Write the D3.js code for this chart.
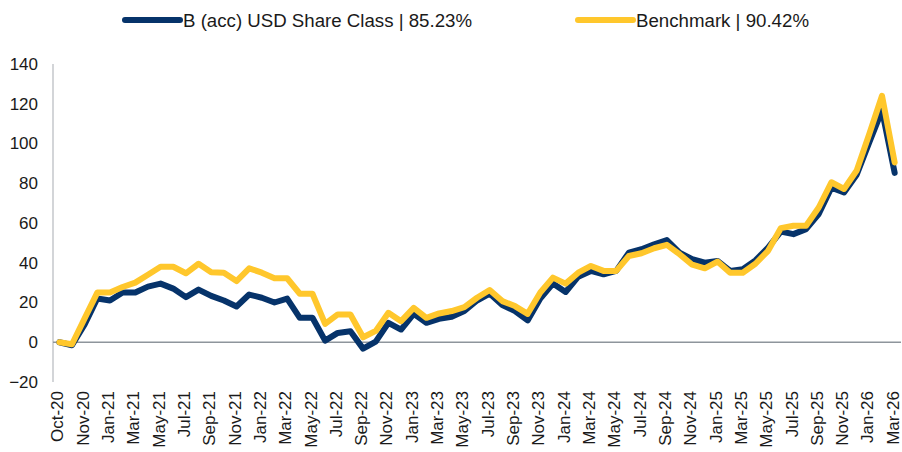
<!DOCTYPE html>
<html>
<head>
<meta charset="utf-8">
<script src="https://cdn.jsdelivr.net/npm/d3@7"></script>
<style>
  body { margin: 0; background: #fff; }
  svg text { font-family: "Liberation Sans", Arial, sans-serif; fill: #1a1a1a; }
</style>
</head>
<body>
<svg width="902" height="452"></svg>
<script>
// 横轴类别：首点为成立日，其后为月末
var labels = ["Oct-20", "Oct-20", "Nov-20", "Dec-20",
  "Jan-21", "Feb-21", "Mar-21", "Apr-21", "May-21", "Jun-21", "Jul-21", "Aug-21", "Sep-21", "Oct-21", "Nov-21", "Dec-21",
  "Jan-22", "Feb-22", "Mar-22", "Apr-22", "May-22", "Jun-22", "Jul-22", "Aug-22", "Sep-22", "Oct-22", "Nov-22", "Dec-22",
  "Jan-23", "Feb-23", "Mar-23", "Apr-23", "May-23", "Jun-23", "Jul-23", "Aug-23", "Sep-23", "Oct-23", "Nov-23", "Dec-23",
  "Jan-24", "Feb-24", "Mar-24", "Apr-24", "May-24", "Jun-24", "Jul-24", "Aug-24", "Sep-24", "Oct-24", "Nov-24", "Dec-24",
  "Jan-25", "Feb-25", "Mar-25", "Apr-25", "May-25", "Jun-25", "Jul-25", "Aug-25", "Sep-25", "Oct-25", "Nov-25", "Dec-25",
  "Jan-26", "Feb-26", "Mar-26"];

// 份额类别累计收益 (%)
var shareClass = [0, -1.5, 9, 22, 21, 25, 25, 28, 29.5, 27, 22.7, 26.5, 23.3, 21, 18, 24,
  22.4, 20, 22, 12.3, 12.3, 0.8, 4.7, 5.5, -3.2, 0.3, 9.8, 6.4, 14.3, 9.8, 11.8, 12.8,
  15.7, 21, 24.5, 18.7, 15.7, 11, 22, 29.5, 25.3, 33, 35.9, 34.2, 35.9, 45.1, 46.8, 49.3,
  51.4, 45.1, 41.8, 40, 40.9, 35.9, 36.7, 41.2, 47.6, 55.7, 54.4, 56.9, 64.5, 77.8, 75.4,
  84.3, 100.7, 116.7, 85.23];

// 基准累计收益 (%)
var benchmark = [0, -1, 12, 25, 25, 27.8, 30, 34, 38, 38, 34.7, 39.5, 35.2, 35, 30.8, 37.2,
  35, 32.2, 32.2, 24.4, 24.4, 9.2, 14, 14, 2.5, 5.7, 14.8, 10.6, 17.3, 12.3, 14.5, 15.7,
  17.7, 22.4, 26.3, 20.7, 18.2, 14.3, 25, 32.5, 29.5, 35, 38.4, 35.9, 35.9, 43.4, 44.8, 47.3,
  49, 44.3, 39, 37.2, 40.6, 35, 35, 39.5, 46, 57.4, 58.6, 58.6, 67.8, 80.5, 77.1,
  86.4, 104.9, 124, 90.42];

var yTicks = [-20, 0, 20, 40, 60, 80, 100, 120, 140];

var seriesNames = ["B (acc) USD Share Class | 85.23%", "Benchmark | 90.42%"];
var seriesColors = ["#06336a", "#ffc72c"];

var svg = d3.select("svg");
var margin = {left: 53, right: 1, top: 64, bottom: 70};
var width = +svg.attr("width"), height = +svg.attr("height");

// x：类别轴，点位于类别中间
var x = d3.scaleBand()
    .domain(d3.range(labels.length))
    .range([margin.left, width - margin.right]);

var y = d3.scaleLinear()
    .domain([-20, 140])
    .range([382, 64]);

// 纵轴线
svg.append("line")
    .attr("x1", margin.left).attr("x2", margin.left)
    .attr("y1", y(140)).attr("y2", y(-20))
    .attr("stroke", "#c4c7cb").attr("stroke-width", 1.5);

// 零线
svg.append("line")
    .attr("x1", margin.left).attr("x2", width - margin.right)
    .attr("y1", y(0)).attr("y2", y(0))
    .attr("stroke", "#8e959c").attr("stroke-width", 1.5);

// 纵轴标签
var yAxis = svg.append("g")
    .attr("transform", "translate(" + (margin.left - 15) + ",0)")
    .call(d3.axisLeft(y).tickValues(yTicks).tickSize(0).tickPadding(0));
yAxis.select(".domain").remove();
yAxis.selectAll("text")
    .style("font-size", "17px")
    .attr("fill", "#1a1a1a");

// 横轴标签，每隔一个类别
var xAxis = svg.append("g")
    .attr("transform", "translate(0," + 391 + ")")
    .call(d3.axisBottom(x)
        .tickValues(d3.range(0, labels.length, 2))
        .tickFormat(function(i) { return labels[i]; })
        .tickSize(0).tickPadding(0));
xAxis.select(".domain").remove();
xAxis.selectAll("text")
    .style("font-size", "17px")
    .attr("fill", "#1a1a1a")
    .attr("text-anchor", "end")
    .attr("transform", "rotate(-90)")
    .attr("x", 0)
    .attr("y", 0)
    .attr("dy", "0.24em");

// 折线
var line = d3.line()
    .x(function(d, i) { return x(i) + x.bandwidth() / 2; })
    .y(function(d) { return y(d); });

[shareClass, benchmark].forEach(function(data, k) {
    svg.append("path")
        .datum(data)
        .attr("fill", "none")
        .attr("stroke", seriesColors[k])
        .attr("stroke-width", 6)
        .attr("stroke-linejoin", "round")
        .attr("stroke-linecap", "round")
        .attr("d", line);
});

// 图例（文字在原图中略被横向拉宽）
var legendX = [125, 578];
var legendTextLen = [289, 173];
var legend = svg.append("g").attr("class", "legend");
seriesNames.forEach(function(name, k) {
    legend.append("line")
        .attr("x1", legendX[k]).attr("x2", legendX[k] + 55)
        .attr("y1", 20).attr("y2", 20)
        .attr("stroke", seriesColors[k])
        .attr("stroke-width", 6)
        .attr("stroke-linecap", "round");
    legend.append("text")
        .attr("x", legendX[k] + 58)
        .attr("y", 21)
        .attr("dy", "0.35em")
        .attr("textLength", legendTextLen[k])
        .attr("lengthAdjust", "spacingAndGlyphs")
        .style("font-size", "17.5px")
        .text(name);
});
</script>
</body>
</html>
